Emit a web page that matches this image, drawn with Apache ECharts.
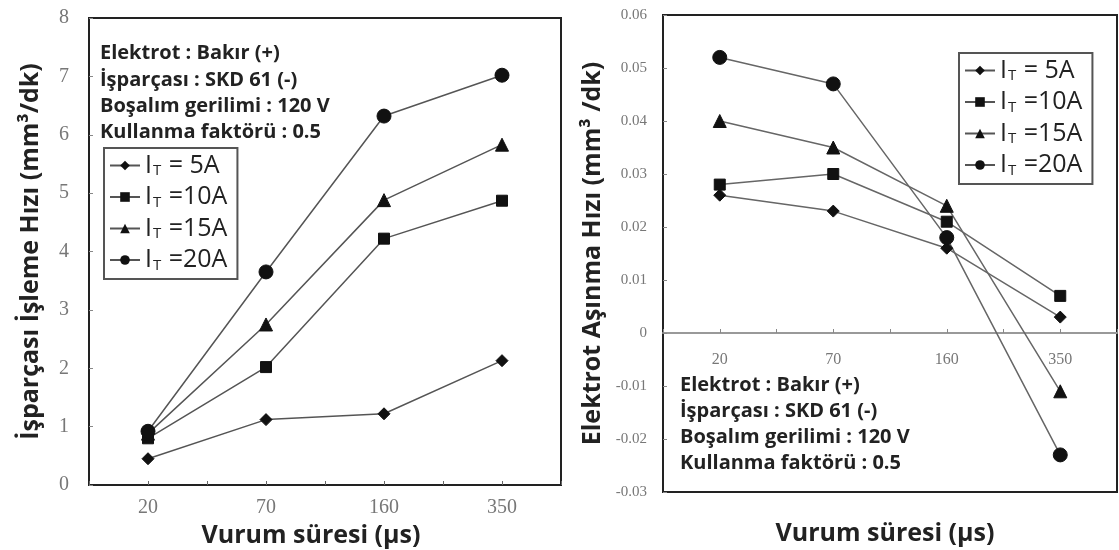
<!DOCTYPE html>
<html>
<head>
<meta charset="utf-8">
<script src="https://cdn.jsdelivr.net/npm/echarts@6/dist/echarts.min.js"></script>
<style>html,body{margin:0;padding:0;background:#fff}#c{width:1119px;height:550px}</style>
</head>
<body>
<div id="c"></div>
<script>
// ---- data ----
const categories = ['20', '70', '160', '350'];
const currents = ['5A', '10A', '15A', '20A'];
const legendLabels = [' = 5A', ' =10A', ' =15A', ' =20A'];
const symbols = ['diamond', 'rect', 'triangle', 'circle'];
// Left: İşparçası işleme hızı (mm³/dk)
const mrr5A  = [0.45, 1.12, 1.22, 2.13];
const mrr10A = [0.80, 2.02, 4.22, 4.87];
const mrr15A = [0.88, 2.75, 4.88, 5.83];
const mrr20A = [0.92, 3.65, 6.32, 7.02];
// Right: Elektrot aşınma hızı (mm³/dk)
const ewr5A  = [0.026, 0.023, 0.016, 0.003];
const ewr10A = [0.028, 0.030, 0.021, 0.007];
const ewr15A = [0.040, 0.035, 0.024, -0.011];
const ewr20A = [0.052, 0.047, 0.018, -0.023];
const infoLines = ['Elektrot : Bakır (+)', 'İşparçası : SKD 61 (-)', 'Boşalım gerilimi : 120 V', 'Kullanma faktörü : 0.5'];
const xTitle = 'Vurum süresi (µs)';
const yTitleLeft = 'İşparçası İşleme Hızı (mm³/dk)';
const yTitleRight = 'Elektrot Aşınma Hızı (mm³ /dk)';

const mrr = [mrr5A, mrr10A, mrr15A, mrr20A];
const ewr = [ewr5A, ewr10A, ewr15A, ewr20A];
const symSizes = [12, 11, 13, 14];

const chart = echarts.init(document.getElementById('c'), null, {renderer: 'canvas'});
const serif = '"Liberation Serif", "DejaVu Serif", serif';
const sans = '"Open Sans", "Noto Sans", sans-serif';

function legendCfg(pos) {
  return Object.assign({
    orient: 'vertical',
    data: currents,
    itemWidth: 30, itemHeight: 12, itemGap: 6,
    borderColor: '#555', borderWidth: 2, padding: [5, 10, 6, 5],
    backgroundColor: '#fff',
    selectedMode: false,
    formatter: n => '{a|I}{b|T}{a|' + legendLabels[currents.indexOf(n)] + '}',
    textStyle: {
      rich: {
        a: {fontFamily: sans, fontSize: 25, color: '#222'},
        b: {fontFamily: sans, fontSize: 15, color: '#222', padding: [11, 1, 0, 1]}
      }
    }
  }, pos);
}

const titleStyle = {fontFamily: sans, fontWeight: 'bold', fontSize: 25, color: '#222'};

const series = [];
currents.forEach((c, i) => {
  series.push({
    name: c, type: 'line', xAxisIndex: 0, yAxisIndex: 0, data: mrr[i],
    symbol: symbols[i], symbolSize: symSizes[i], showAllSymbol: true,
    lineStyle: {color: '#555', width: 1.5},
    itemStyle: {color: '#111', borderColor: '#111'},
    z: 3
  });
  series.push({
    name: c, type: 'line', xAxisIndex: 2, yAxisIndex: 1, data: ewr[i],
    symbol: symbols[i], symbolSize: symSizes[i], showAllSymbol: true,
    lineStyle: {color: '#666', width: 1.5},
    itemStyle: {color: '#111', borderColor: '#111'},
    z: 3
  });
});

const graphics = [];
const leftLineY = [53, 80, 106, 132];
const rightLineY = [385, 411, 437, 463];
infoLines.forEach((t, i) => {
  graphics.push({type: 'text', x: 100, y: leftLineY[i], z: 10,
    style: {text: t, font: 'bold 20px ' + sans, fill: '#222', verticalAlign: 'middle'}});
  graphics.push({type: 'text', x: 680, y: rightLineY[i], z: 10,
    style: {text: t, font: 'bold 20px ' + sans, fill: '#222', verticalAlign: 'middle'}});
});

chart.setOption({
  animation: false,
  backgroundColor: '#fff',
  grid: [
    {left: 89, top: 18, width: 472, height: 467, show: true, borderColor: '#222', borderWidth: 2,
     containLabel: false, outerBoundsMode: 'none'},
    {left: 663, top: 15, width: 454, height: 477, show: true, borderColor: '#222', borderWidth: 2,
     containLabel: false, outerBoundsMode: 'none'},
    // helper grid whose bottom edge sits on the zero level of the right panel (6/9 of its height)
    {left: 663, top: 15, width: 454, height: 477 * 6 / 9, show: false,
     containLabel: false, outerBoundsMode: 'none'}
  ],
  legend: [
    legendCfg({left: 104, top: 148}),
    legendCfg({left: 959, top: 53})
  ],
  xAxis: [
    { // 0: left main
      type: 'category', gridIndex: 0, position: 'bottom', data: categories, boundaryGap: true,
      axisLine: {show: true, onZero: false, lineStyle: {color: '#222', width: 2}},
      axisTick: {show: true, inside: true, length: 4, lineStyle: {color: '#666'}},
      axisLabel: {fontFamily: serif, fontSize: 20, color: '#777', margin: 13},
      splitLine: {show: false},
      name: xTitle, nameLocation: 'middle', nameGap: 35,
      nameTextStyle: Object.assign({padding: [0, 28, 0, 0]}, titleStyle)
    },
    { // 1: left centre ticks
      type: 'category', gridIndex: 0, position: 'bottom', data: categories, boundaryGap: true,
      axisLine: {show: false, onZero: false},
      axisTick: {show: true, inside: true, alignWithLabel: true, length: 4, lineStyle: {color: '#666'}},
      axisLabel: {show: false}, splitLine: {show: false}
    },
    { // 2: right series axis (hidden)
      type: 'category', gridIndex: 1, position: 'bottom', data: categories, boundaryGap: true,
      axisLine: {show: false, onZero: false}, axisTick: {show: false}, axisLabel: {show: false},
      splitLine: {show: false}
    },
    { // 3: right visible axis on the zero level
      type: 'category', gridIndex: 2, position: 'bottom', data: categories, boundaryGap: true,
      axisLine: {show: true, onZero: false, lineStyle: {color: '#999', width: 2}},
      axisTick: {show: true, inside: true, length: 4, lineStyle: {color: '#888'}},
      axisLabel: {fontFamily: serif, fontSize: 16, color: '#777', margin: 19},
      splitLine: {show: false},
      name: xTitle, nameLocation: 'middle', nameGap: 188,
      nameTextStyle: Object.assign({padding: [0, 10, 0, 0]}, titleStyle)
    },
    { // 4: right centre ticks
      type: 'category', gridIndex: 2, position: 'bottom', data: categories, boundaryGap: true,
      axisLine: {show: false, onZero: false},
      axisTick: {show: true, inside: true, alignWithLabel: true, length: 4, lineStyle: {color: '#888'}},
      axisLabel: {show: false}, splitLine: {show: false}
    }
  ],
  yAxis: [{
    type: 'value', gridIndex: 0, min: 0, max: 8, interval: 1,
    axisLine: {show: true, onZero: false, lineStyle: {color: '#222', width: 2}},
    axisTick: {show: true, inside: true, length: 4, lineStyle: {color: '#888'}},
    axisLabel: {fontFamily: serif, fontSize: 20, color: '#777', margin: 20},
    splitLine: {show: false},
    name: yTitleLeft, nameLocation: 'middle', nameGap: 46,
    nameTextStyle: titleStyle
  }, {
    type: 'value', gridIndex: 1, min: -0.03, max: 0.06, interval: 0.01,
    axisLine: {show: true, onZero: false, lineStyle: {color: '#222', width: 2}},
    axisTick: {show: true, inside: true, length: 4, lineStyle: {color: '#888'}},
    axisLabel: {fontFamily: serif, fontSize: 15, color: '#777', margin: 16,
      formatter: v => String(+v.toFixed(2))},
    splitLine: {show: false},
    name: yTitleRight, nameLocation: 'middle', nameGap: 58,
    nameTextStyle: titleStyle
  }, {
    type: 'value', gridIndex: 2, min: 0, max: 1, show: false,
    axisLine: {onZero: false}
  }],
  series: series,
  graphic: graphics
});
</script>
</body>
</html>
